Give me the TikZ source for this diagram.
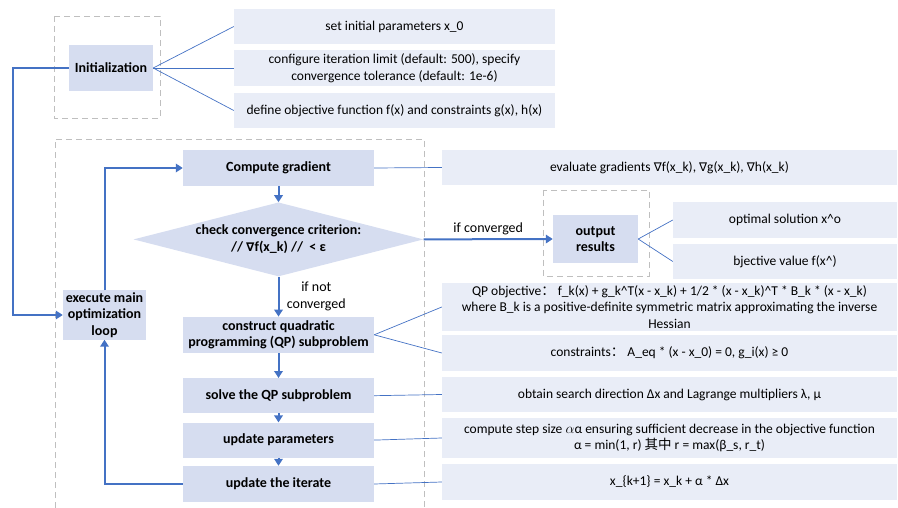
\documentclass[tikz,border=0pt]{standalone}
\usepackage{fontspec}
\setmainfont{Carlito}
\newfontfamily\cjk{Noto Sans CJK SC}
\newfontfamily\symf{DejaVu Sans}
\usepackage{tikz}
\usetikzlibrary{arrows.meta, positioning, shapes.geometric}
\definecolor{flow}{HTML}{4472C4}
\definecolor{stepfill}{HTML}{D6DDF0}
\definecolor{notefill}{HTML}{E9EDF7}
\definecolor{frame}{HTML}{BFBFBF}
\newcommand{\nab}{{\symf\fontsize{12}{15}\selectfont ∇}}

\begin{document}
\begin{tikzpicture}[
  x=1pt, y=-1pt,
  font=\fontsize{13.5}{16.5}\selectfont,
  box/.style={fill=stepfill, align=center, inner sep=2pt, font=\fontsize{14}{16.5}\selectfont\bfseries, minimum width=191pt, minimum height=36pt},
  note/.style={fill=notefill, align=center, inner sep=2pt, minimum height=35pt},
  decision/.style={diamond, aspect=3.9, fill=stepfill, align=center, inner sep=0pt, font=\fontsize{14}{17}\selectfont\bfseries, minimum width=290pt, minimum height=74pt},
  group/.style={draw=frame, dash pattern=on 6pt off 4pt, line width=0.8pt},
  arrow/.style={-{Triangle[length=7pt,width=8.5pt]}, line width=2pt, draw=flow},
  link/.style={draw=flow, line width=0.7pt},
  tag/.style={font=\fontsize{14}{16.5}\selectfont}
]
\useasboundingbox (0,0) rectangle (898,508);

% dashed groups
\draw[group] (54,16) rectangle (160,118);
\draw[group] (55,508) |- (424,139) -- (424,508);
\draw[group] (543,190) rectangle (649,276);

% initialization
\node[box, minimum width=84pt, minimum height=46pt] (init) at (111,68) {Initialization};
\node[note, minimum width=321pt] (p1) at (394.5,26.5) {set initial parameters x\_0};
\node[note, minimum width=321pt, minimum height=36pt] (p2) at (394.5,68) {configure iteration limit (default: 500), specify\\convergence tolerance (default: 1e-6)};
\node[note, minimum width=321pt] (p3) at (394.5,110.5) {define objective function f(x) and constraints g(x), h(x)};

% main loop
\node[box, minimum width=83pt, minimum height=48pt] (exec) at (104.5,315) {execute main\\optimization\\loop};
\node[box] (comp) at (278.5,168) {Compute gradient};
\node[decision, below=16pt of comp] (chk) {check convergence criterion:\\// \nab f(x\_k) //~~< ε};
\node[box, below=40pt of chk] (qp) {construct quadratic\\programming (QP) subproblem};
\node[box, minimum height=35pt, below=25pt of qp] (solve) {solve the QP subproblem};
\node[box, minimum height=35pt, below=9pt of solve] (upd) {update parameters};
\node[box, below=8pt of upd] (iter) {update the iterate};

% output
\node[box, minimum width=85pt, minimum height=48pt] (out) at (595.5,239) {output\\results};
\node[note, minimum width=224pt, minimum height=36pt] (opt) at (785,220) {optimal solution x\textasciicircum o};
\node[note, minimum width=224pt] (obj) at (785,261.5) {bjective value f(x\textasciicircum)};

% details
\node[note, minimum width=455pt] (ev) at (669.5,167.5) {evaluate gradients \nab f(x\_k), \nab g(x\_k), \nab h(x\_k)};
\node[note, minimum width=455pt, minimum height=48pt] (qpo) at (669.5,307) {QP objective{\cjk ：} f\_k(x) + g\_k\textasciicircum T(x - x\_k) + 1/2 * (x - x\_k)\textasciicircum T * B\_k * (x - x\_k)\\where B\_k is a positive-definite symmetric matrix approximating the inverse\\Hessian};
\node[note, minimum width=455pt, minimum height=36pt] (con) at (669.5,353) {constraints{\cjk ：} A\_eq * (x - x\_0) = 0, g\_i(x) ≥ 0};
\node[note, minimum width=455pt] (dir) at (669.5,394.5) {obtain search direction Δx and Lagrange multipliers λ, μ};
\node[note, minimum width=455pt, minimum height=40pt] (stp) at (669.5,438) {compute step size $\alpha$α ensuring sufficient decrease in the objective function\\α = min(1, r) {\cjk 其中} r = max(β\_s, r\_t)};
\node[note, minimum width=455pt, minimum height=36pt] (xk) at (669.5,482) {x\_\{k+1\} = x\_k + α * Δx};

% thin links
\draw[link] (init.east) -- (p1.west);
\draw[link] (init.east) -- (p2.west);
\draw[link] (init.east) -- (p3.west);
\draw[link] (comp.east) -- (ev.west);
\draw[link] (out.east) -- (opt.west);
\draw[link] (out.east) -- (obj.west);
\draw[link] (qp.east) -- (qpo.west);
\draw[link] (qp.east) -- (con.west);
\draw[link] (solve.east) -- (dir.west);
\draw[link] (upd.east) -- (stp.west);
\draw[link] (iter.east) -- (xk.west);

% flow
\draw[arrow] (init.west) -- ++(-56,0) |- (exec.west);
\draw[arrow] (exec.north) |- (comp.west);
\draw[arrow] (comp) -- (chk);
\draw[arrow] (chk) -- node[tag, right, align=center, xshift=4pt] {if not\\converged} (qp);
\draw[arrow] (chk.east) -- node[tag, above, inner sep=3pt] {if converged} (out.west);
\draw[arrow] (qp) -- (solve);
\draw[arrow] (solve) -- (upd);
\draw[arrow] (upd) -- (iter);
\draw[arrow] (iter.west) -| (exec.south);
\end{tikzpicture}
\end{document}
